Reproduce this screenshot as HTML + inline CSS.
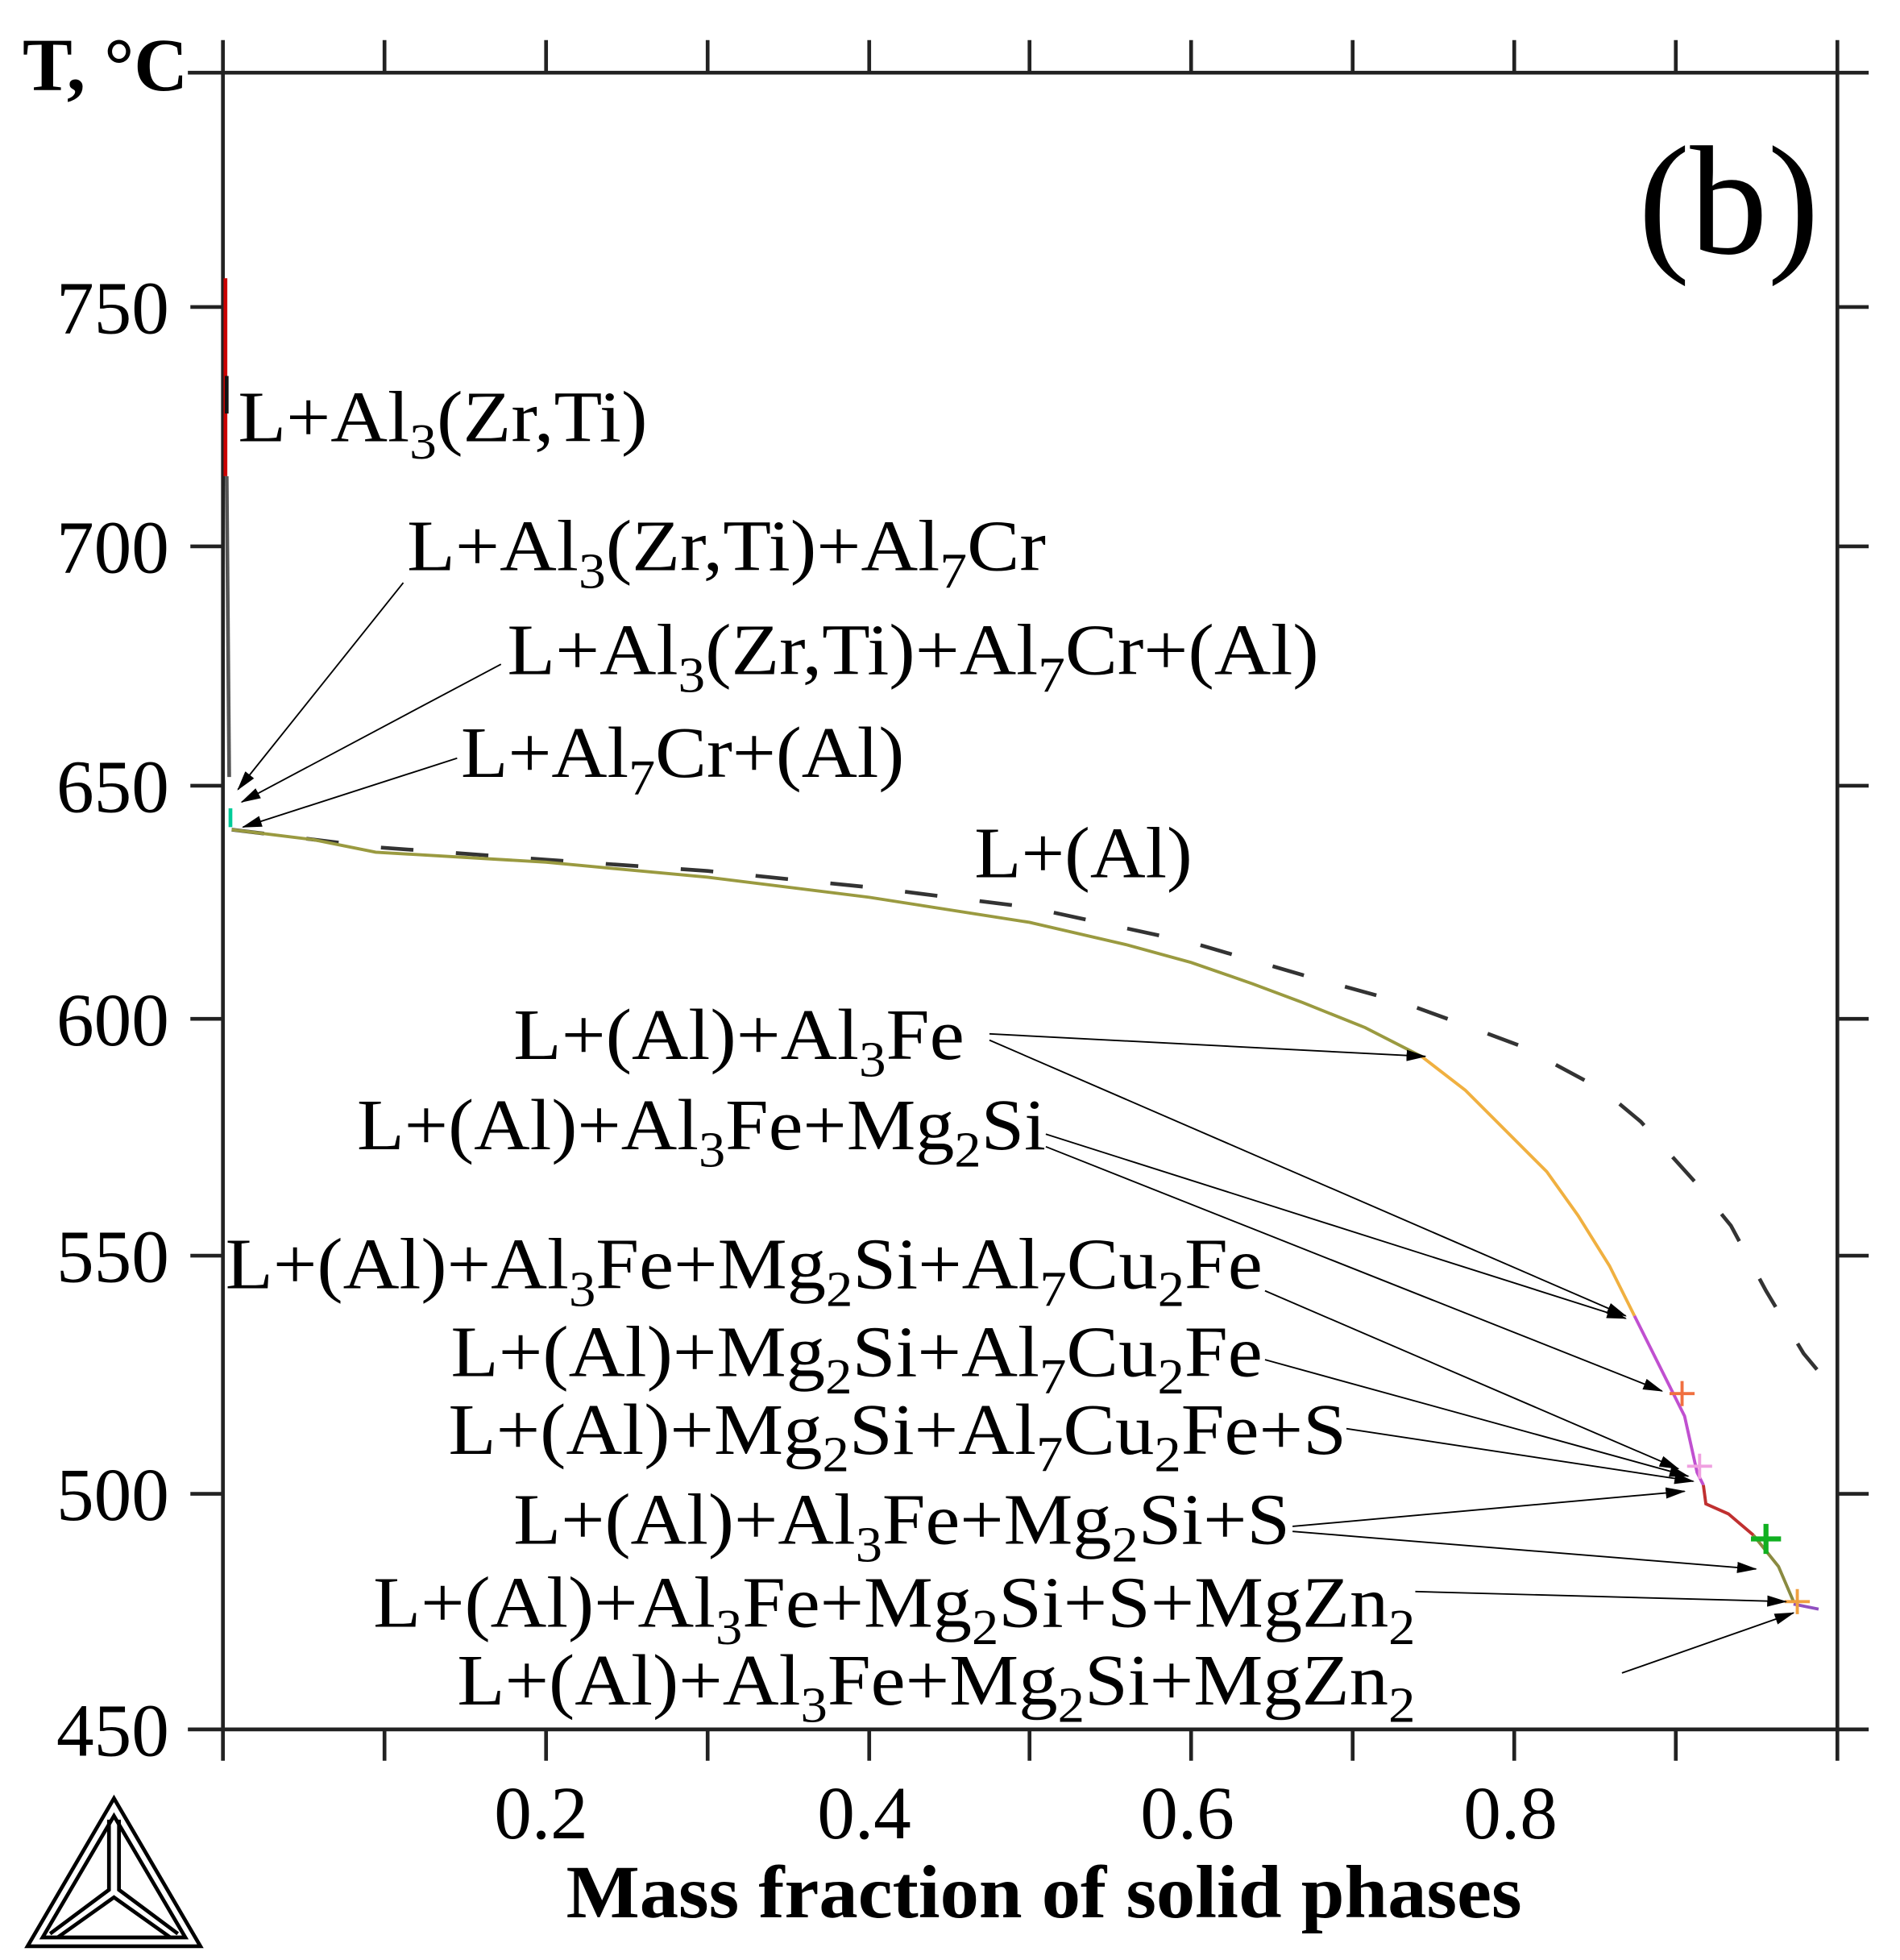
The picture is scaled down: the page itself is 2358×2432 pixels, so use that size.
<!DOCTYPE html>
<html><head><style>
html,body{margin:0;padding:0;background:#fff}
svg{display:block}
text{font-family:"Liberation Serif",serif;fill:#000}
</style></head><body>
<svg width="2358" height="2432" viewBox="0 0 1517 1564" preserveAspectRatio="none" xmlns="http://www.w3.org/2000/svg">
<defs>
<marker id="ah" markerWidth="16" markerHeight="9" refX="15" refY="4.5" orient="auto" markerUnits="userSpaceOnUse">
<path d="M0,0 L16,4.5 L0,9 Z" fill="#000"/></marker>
</defs>
<rect width="1517" height="1564" fill="#fff"/>
<g stroke="#222" stroke-width="3" fill="none">
<line x1="150" y1="58" x2="1492" y2="58"/>
<line x1="150" y1="1380" x2="1492" y2="1380"/>
<line x1="178" y1="32" x2="178" y2="1405"/>
<line x1="1467" y1="32" x2="1467" y2="1405"/>
<path d="M307 32V58M436 32V58M565 32V58M694 32V58M822 32V58M951 32V58M1080 32V58M1209 32V58M1338 32V58"/>
<path d="M307 1380V1405M436 1380V1405M565 1380V1405M694 1380V1405M822 1380V1405M951 1380V1405M1080 1380V1405M1209 1380V1405M1338 1380V1405"/>
<path d="M152 245H178M152 436H178M152 627H178M152 813H178M152 1002H178M152 1192H178"/>
<path d="M1467 245H1492M1467 436H1492M1467 627H1492M1467 813H1492M1467 1002H1492M1467 1192H1492"/>
</g>
<g font-size="60" text-anchor="end">
<text x="135" y="266">750</text><text x="135" y="457">700</text><text x="135" y="648">650</text>
<text x="135" y="834">600</text><text x="135" y="1023">550</text><text x="135" y="1213">500</text><text x="135" y="1401">450</text>
</g>
<g font-size="60" text-anchor="middle">
<text x="432" y="1467">0.2</text><text x="690" y="1467">0.4</text><text x="948" y="1467">0.6</text><text x="1206" y="1467">0.8</text>
</g>
<text x="18" y="72" font-size="60" font-weight="bold" textLength="132" lengthAdjust="spacingAndGlyphs">T, °C</text>
<text x="452" y="1530" font-size="60" font-weight="bold" textLength="763" lengthAdjust="spacingAndGlyphs">Mass fraction of solid phases</text>
<text x="1308" y="202" font-size="124">(b)</text>
<!-- vertical initial segment -->
<line x1="180" y1="222" x2="180" y2="380" stroke="#c00" stroke-width="3"/>
<line x1="181" y1="380" x2="183" y2="620" stroke="#555" stroke-width="3"/>
<line x1="181" y1="300" x2="181" y2="330" stroke="#111" stroke-width="3"/>
<line x1="184" y1="645" x2="184" y2="660" stroke="#0c9" stroke-width="3"/>
<!-- dashed curve -->
<path d="M185,662 L300,676 L436,686 L565,695 L694,708 L822,724 L951,752 L1040,778 L1120,800 L1175,820 L1215,835 L1280,870 L1310,895 L1355,945 L1382,978 L1410,1030 L1440,1080 L1465,1110" fill="none" stroke="#333" stroke-width="3" stroke-dasharray="26,34"/>
<!-- main curve -->
<path d="M185,662 L250,670 L300,680 L436,688 L565,700 L694,716 L822,736 L900,754 L951,768 L1000,785 L1040,800 L1090,820 L1135,843" fill="none" stroke="#9a9a40" stroke-width="2.5"/>
<path d="M1135,843 L1170,870 L1200,900 L1235,935 L1260,970 L1285,1010 L1305,1050" fill="none" stroke="#f0b040" stroke-width="2.5"/>
<path d="M1305,1050 L1330,1100 L1345,1130 L1355,1175 L1360,1185" fill="none" stroke="#c050d0" stroke-width="2.5"/>
<path d="M1360,1185 L1362,1200 L1380,1208 L1400,1225" fill="none" stroke="#c03030" stroke-width="2.5"/>
<path d="M1400,1225 L1420,1250 L1432,1278" fill="none" stroke="#8a8a40" stroke-width="2.5"/>
<path d="M1432,1280 L1452,1284" fill="none" stroke="#9050c0" stroke-width="2.5"/>
<g stroke-width="2.5">
<path d="M1333,1112H1353M1343,1102V1122" stroke="#f07040"/>
<path d="M1347,1170H1367M1357,1160V1180" stroke="#f0a0e0"/>
<path d="M1398,1228H1422M1410,1216V1240" stroke="#10b020" stroke-width="4"/>
<path d="M1425,1278H1445M1435,1268V1288" stroke="#f0a040"/>
</g>
<!-- labels -->
<g font-size="58">
<text x="190" y="352" textLength="327" lengthAdjust="spacingAndGlyphs">L+Al<tspan font-size="40" dy="14">3</tspan><tspan dy="-14">(Zr,Ti)</tspan></text>
<text x="325" y="455" textLength="510" lengthAdjust="spacingAndGlyphs">L+Al<tspan font-size="40" dy="14">3</tspan><tspan dy="-14">(Zr,Ti)+Al</tspan><tspan font-size="40" dy="14">7</tspan><tspan dy="-14">Cr</tspan></text>
<text x="405" y="538" textLength="648" lengthAdjust="spacingAndGlyphs">L+Al<tspan font-size="40" dy="14">3</tspan><tspan dy="-14">(Zr,Ti)+Al</tspan><tspan font-size="40" dy="14">7</tspan><tspan dy="-14">Cr+(Al)</tspan></text>
<text x="368" y="620" textLength="354" lengthAdjust="spacingAndGlyphs">L+Al<tspan font-size="40" dy="14">7</tspan><tspan dy="-14">Cr+(Al)</tspan></text>
<text x="778" y="700" textLength="174" lengthAdjust="spacingAndGlyphs">L+(Al)</text>
<text x="410" y="845" textLength="360" lengthAdjust="spacingAndGlyphs">L+(Al)+Al<tspan font-size="40" dy="14">3</tspan><tspan dy="-14">Fe</tspan></text>
<text x="285" y="917" textLength="550" lengthAdjust="spacingAndGlyphs">L+(Al)+Al<tspan font-size="40" dy="14">3</tspan><tspan dy="-14">Fe+Mg</tspan><tspan font-size="40" dy="14">2</tspan><tspan dy="-14">Si</tspan></text>
<text x="180" y="1028" textLength="828" lengthAdjust="spacingAndGlyphs">L+(Al)+Al<tspan font-size="40" dy="14">3</tspan><tspan dy="-14">Fe+Mg</tspan><tspan font-size="40" dy="14">2</tspan><tspan dy="-14">Si+Al</tspan><tspan font-size="40" dy="14">7</tspan><tspan dy="-14">Cu</tspan><tspan font-size="40" dy="14">2</tspan><tspan dy="-14">Fe</tspan></text>
<text x="360" y="1098" textLength="648" lengthAdjust="spacingAndGlyphs">L+(Al)+Mg<tspan font-size="40" dy="14">2</tspan><tspan dy="-14">Si+Al</tspan><tspan font-size="40" dy="14">7</tspan><tspan dy="-14">Cu</tspan><tspan font-size="40" dy="14">2</tspan><tspan dy="-14">Fe</tspan></text>
<text x="358" y="1160" textLength="717" lengthAdjust="spacingAndGlyphs">L+(Al)+Mg<tspan font-size="40" dy="14">2</tspan><tspan dy="-14">Si+Al</tspan><tspan font-size="40" dy="14">7</tspan><tspan dy="-14">Cu</tspan><tspan font-size="40" dy="14">2</tspan><tspan dy="-14">Fe+S</tspan></text>
<text x="410" y="1232" textLength="620" lengthAdjust="spacingAndGlyphs">L+(Al)+Al<tspan font-size="40" dy="14">3</tspan><tspan dy="-14">Fe+Mg</tspan><tspan font-size="40" dy="14">2</tspan><tspan dy="-14">Si+S</tspan></text>
<text x="298" y="1298" textLength="832" lengthAdjust="spacingAndGlyphs">L+(Al)+Al<tspan font-size="40" dy="14">3</tspan><tspan dy="-14">Fe+Mg</tspan><tspan font-size="40" dy="14">2</tspan><tspan dy="-14">Si+S+MgZn</tspan><tspan font-size="40" dy="14">2</tspan></text>
<text x="365" y="1360" textLength="765" lengthAdjust="spacingAndGlyphs">L+(Al)+Al<tspan font-size="40" dy="14">3</tspan><tspan dy="-14">Fe+Mg</tspan><tspan font-size="40" dy="14">2</tspan><tspan dy="-14">Si+MgZn</tspan><tspan font-size="40" dy="14">2</tspan></text>
</g>
<!-- arrows -->
<g stroke="#000" stroke-width="1.2" fill="none" marker-end="url(#ah)">
<line x1="322" y1="465" x2="190" y2="630"/>
<line x1="400" y1="530" x2="193" y2="640"/>
<line x1="365" y1="605" x2="194" y2="660"/>
<line x1="790" y1="825" x2="1138" y2="843"/>
<line x1="790" y1="830" x2="1298" y2="1050"/>
<line x1="835" y1="905" x2="1298" y2="1052"/>
<line x1="835" y1="915" x2="1327" y2="1110"/>
<line x1="1010" y1="1030" x2="1340" y2="1172"/>
<line x1="1010" y1="1085" x2="1348" y2="1178"/>
<line x1="1075" y1="1140" x2="1352" y2="1182"/>
<line x1="1032" y1="1218" x2="1345" y2="1190"/>
<line x1="1032" y1="1222" x2="1402" y2="1252"/>
<line x1="1130" y1="1270" x2="1426" y2="1278"/>
<line x1="1295" y1="1335" x2="1432" y2="1287"/>
</g>
<!-- logo -->
<g stroke="#000" stroke-width="3" fill="none">
<path d="M91,1435 L22,1553 L160,1553 Z"/>
<path d="M91,1449 L34,1546 L148,1546 Z"/>
<path d="M87,1452 L87,1508 L40,1543 M95,1452 L95,1508 L142,1543 M46,1546 L91,1514 L136,1546"/>
</g>
</svg>
</body></html>
